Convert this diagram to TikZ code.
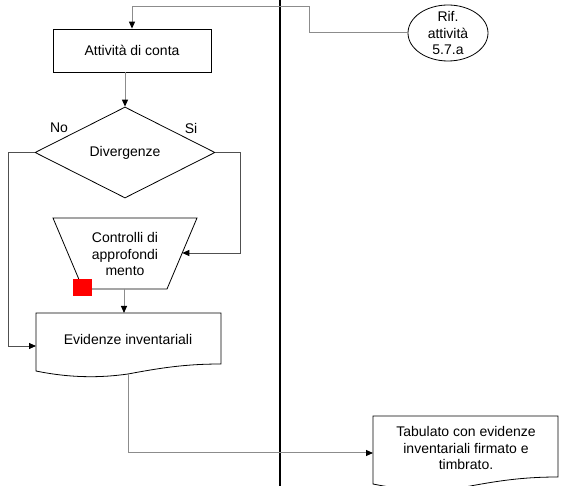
\documentclass[tikz,border=0pt]{standalone}
\usepackage{fontspec}
\setmainfont{Liberation Sans}
\usetikzlibrary{shapes.geometric,arrows.meta}
\definecolor{connGray}{HTML}{8C8C8C}
\definecolor{sideGray}{HTML}{505050}
\begin{document}
\begin{tikzpicture}[x=1pt,y=-1pt,
  every node/.style={font=\fontsize{14}{16.5}\selectfont, inner sep=0pt, align=center},
  shapeline/.style={draw=black, line width=0.8pt},
  conn/.style={draw=connGray, line width=1pt},
  sideconn/.style={draw=sideGray, line width=0.8pt},
  tip/.style={-{Triangle[length=7pt,width=6pt,color=black]}},
  lane/.style={draw=black, line width=2.3pt}
]
\useasboundingbox (0,0) rectangle (571,486);
\clip (0,0) rectangle (571,486);

% swimlane separator
\draw[lane] (280,0) -- (280,486);

% nodes
\node[rectangle, shapeline, minimum width=158pt, minimum height=43pt] (conta) at (132,50.5) {Attività di conta};
\node[diamond, shapeline, minimum width=180pt, minimum height=91pt] (div) at (125,152.5) {Divergenze};
\node (no) at (59,128) {No};
\node (si) at (191,128) {Si};

\node[ellipse, shapeline, minimum width=80pt, minimum height=56pt] (rif) at (448,33) {};
\node (riftext) at (rif.center) {Rif.\\attività\\5.7.a};

% trapezoid (manual operation)
\draw[shapeline] (53,218) -- (197,218) -- (167,289) -- (83,289) -- cycle;
\node (ctrl) at (125,254) {Controlli di\\approfondi\\mento};
\coordinate (trapE) at (182.3,253);
\coordinate (trapB) at (124,289);
\fill[red] (73,279) rectangle (92,296);

% document: Evidenze inventariali
\draw[shapeline] (36,313) -- (221,313) -- (221,364)
  .. controls (185,364) and (160,368) .. (128,374)
  .. controls (100,378) and (70,378) .. (36,371) -- cycle;
\node (evidt) at (128,339) {Evidenze inventariali};
\coordinate (evidW) at (36,346);
\coordinate (evidN) at (124,313);
\coordinate (evidS) at (128,374);

% document: Tabulato
\draw[shapeline] (373,416) -- (558,416) -- (558,477)
  .. controls (522,477) and (497,481) .. (465,487)
  .. controls (437,491) and (407,491) .. (373,484) -- cycle;
\node (tabt) at (466,448) {Tabulato con evidenze\\inventariali firmato e\\timbrato.};
\coordinate (tabW) at (373,453);

% connectors
\draw[conn, tip] (rif.west) -| (309,7) -| (conta.north);
\draw[conn, tip] (conta.south -| div.north) -- (div.north);
\draw[sideconn, tip] (div.west) -- ++(-26,0) |- (evidW);
\draw[sideconn, tip] (div.east) -- ++(25,0) |- (trapE);
\draw[conn, tip] (trapB) -- (evidN);
\draw[conn, tip] (evidS) |- (tabW);
\end{tikzpicture}
\end{document}
